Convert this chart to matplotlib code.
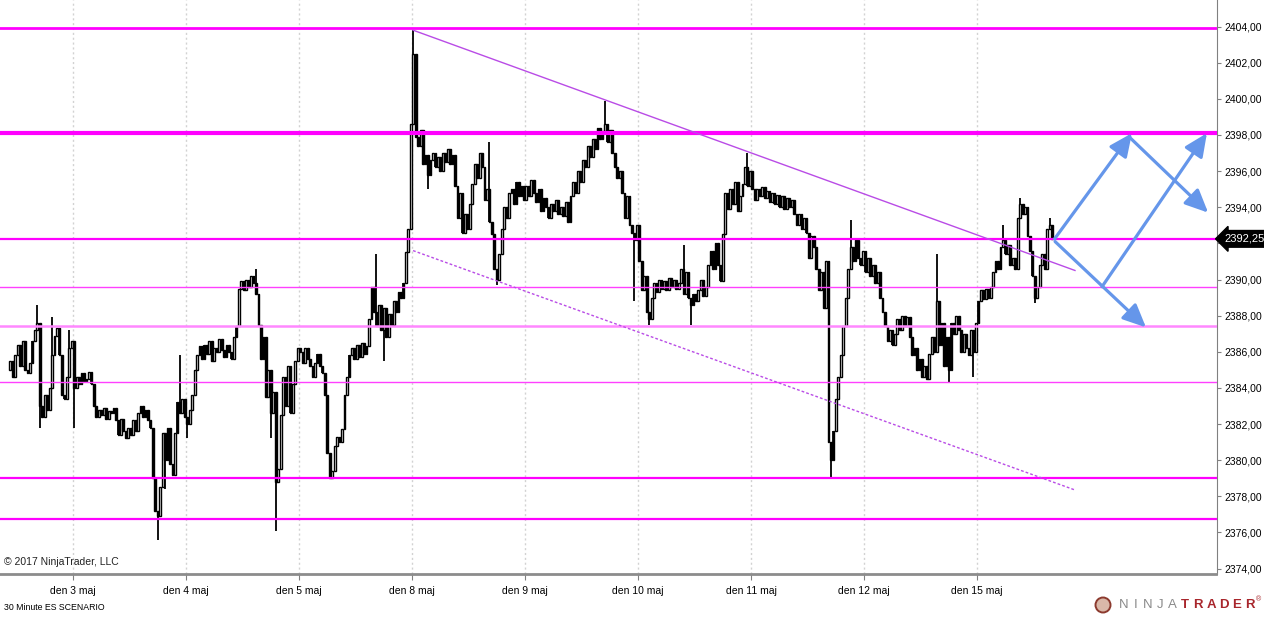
import numpy as np
import matplotlib.pyplot as plt
from matplotlib.ticker import FixedLocator, FuncFormatter
from matplotlib.patches import Circle

plt.rcParams['font.family'] = ['Liberation Sans', 'DejaVu Sans']

# ---------- DATA: 30 min ES closes ----------
first_open = 2385.0
pre = [2385.5, 2384.6, 2385.8, 2386.4, 2385.2, 2386.6, 2385.0, 2384.8, 2385.4, 2386.6,
       2387.2, 2387.6, 2383.0, 2382.4, 2383.6, 2382.8, 2384.0, 2385.8, 2386.9, 2387.3,
       2385.8, 2383.6, 2383.4, 2384.6, 2386.2, 2386.6]
may3 = [2384.0, 2384.6, 2384.2, 2384.8, 2384.4, 2384.5, 2384.9, 2384.2, 2383.0, 2382.4,
        2382.8, 2382.5, 2382.9, 2382.3, 2382.7, 2382.6, 2382.9, 2382.2, 2381.4, 2382.3,
        2381.6, 2381.2, 2381.8, 2381.4, 2382.2, 2381.6, 2382.6, 2383.0, 2382.4, 2382.8,
        2382.2, 2381.8, 2379.0, 2377.2, 2376.9, 2378.5, 2381.5, 2380.0, 2381.8, 2379.8,
        2379.2, 2381.5, 2383.2, 2382.6, 2383.4, 2382.4]
may4 = [2382.0, 2382.8, 2383.6, 2385.0, 2385.8, 2386.3, 2385.6, 2386.4, 2385.9, 2386.6,
        2385.5, 2386.2, 2386.0, 2386.7, 2386.1, 2385.7, 2386.4, 2386.0, 2385.6, 2386.8,
        2387.4, 2389.5, 2389.9, 2389.4, 2390.0, 2389.6, 2390.2, 2389.8, 2389.2, 2387.5,
        2385.6, 2386.8, 2383.5, 2385.0, 2382.6, 2383.8, 2378.8, 2379.5, 2382.5, 2384.6,
        2383.0, 2385.2, 2382.6, 2384.2, 2385.5, 2386.2]
may5 = [2386.0, 2385.4, 2386.2, 2385.6, 2385.2, 2384.6, 2385.4, 2385.9, 2385.2, 2384.8,
        2383.6, 2380.4, 2379.0, 2379.4, 2380.8, 2381.3, 2381.0, 2381.7, 2383.6, 2384.6,
        2385.8, 2386.2, 2385.6, 2386.4, 2385.7, 2386.5, 2385.9, 2386.3, 2387.8, 2389.6,
        2388.2, 2387.4, 2388.6, 2387.2, 2388.4, 2386.8, 2388.1, 2387.5, 2388.8, 2388.2,
        2389.3, 2389.0, 2389.8, 2391.5, 2392.8, 2398.6]
may8 = [2402.5, 2397.9, 2397.4, 2398.3, 2396.4, 2396.9, 2395.8, 2396.6, 2397.0, 2396.2,
        2396.8, 2396.0, 2397.0, 2396.5, 2397.2, 2396.4, 2396.9, 2395.2, 2393.4, 2394.8,
        2392.6, 2393.6, 2392.8, 2394.2, 2395.3, 2396.4, 2395.6, 2397.0, 2396.2, 2394.4,
        2395.0, 2393.2, 2392.5, 2390.6, 2390.0, 2391.4, 2392.8, 2394.0, 2393.4, 2394.8,
        2395.0, 2394.2, 2395.4, 2394.6, 2395.2, 2394.4]
may9 = [2395.2, 2394.6, 2395.5, 2394.8, 2394.3, 2395.0, 2393.8, 2394.5, 2394.0, 2393.4,
        2394.2, 2393.8, 2394.4, 2393.6, 2394.0, 2393.5, 2394.3, 2393.2, 2394.6, 2395.4,
        2394.8, 2396.0, 2395.4, 2396.6, 2396.2, 2397.4, 2396.8, 2397.8, 2397.2, 2398.4,
        2397.8, 2398.2, 2398.6, 2397.6, 2398.3, 2397.0, 2396.2, 2395.6, 2396.0, 2394.8,
        2393.4, 2394.6, 2393.0, 2392.6, 2392.2, 2393.0]
may10 = [2391.0, 2389.4, 2390.2, 2388.2, 2387.8, 2389.0, 2389.8, 2389.3, 2390.0, 2389.5,
         2389.9, 2389.4, 2390.1, 2389.6, 2390.0, 2389.5, 2389.8, 2390.6, 2389.2, 2390.4,
         2389.0, 2388.6, 2389.2, 2388.8, 2389.4, 2390.0, 2389.1, 2389.6, 2390.8, 2391.6,
         2390.6, 2392.0, 2390.8, 2389.9, 2392.5, 2394.8, 2393.9, 2395.0, 2394.2, 2395.4,
         2393.8, 2394.6, 2395.3, 2396.2, 2395.2, 2396.0]
may11 = [2395.0, 2394.4, 2395.0, 2394.6, 2395.1, 2394.5, 2394.9, 2394.3, 2394.8, 2394.2,
         2394.7, 2394.0, 2394.6, 2393.9, 2394.5, 2394.0, 2394.4, 2393.6, 2393.0, 2393.6,
         2392.8, 2393.4, 2392.6, 2391.2, 2392.4, 2391.8, 2390.6, 2389.4, 2390.4, 2388.4,
         2391.0, 2381.0, 2380.0, 2381.6, 2383.4, 2384.6, 2385.8, 2387.4, 2389.0, 2390.6,
         2391.8, 2391.0, 2392.2, 2391.2, 2390.8, 2391.6]
may12 = [2390.4, 2391.2, 2390.2, 2390.8, 2389.8, 2390.4, 2389.0, 2388.2, 2387.4, 2386.6,
         2387.2, 2386.4, 2387.0, 2387.8, 2387.2, 2388.0, 2387.4, 2387.9, 2386.8, 2385.8,
         2386.2, 2385.0, 2385.6, 2384.6, 2385.2, 2384.5, 2385.9, 2386.8, 2386.0, 2388.8,
         2386.4, 2387.6, 2385.2, 2386.8, 2385.0, 2387.6, 2387.0, 2388.0, 2387.2, 2386.0,
         2387.0, 2386.2, 2385.8, 2387.2, 2386.0, 2387.6]
may15 = [2388.8, 2389.4, 2388.9, 2389.5, 2389.0, 2389.6, 2390.4, 2391.0, 2390.6, 2391.8,
         2392.2, 2391.4, 2391.9, 2390.8, 2391.2, 2390.6, 2393.4, 2394.2, 2393.6, 2394.0,
         2392.4, 2391.6, 2390.2, 2389.0, 2389.6, 2390.8, 2391.4, 2390.6, 2392.8, 2393.0,
         2392.25]
days = [may3, may4, may5, may8, may9, may10, may11, may12, may15]
day_labels = ["den 3 maj", "den 4 maj", "den 5 maj", "den 8 maj", "den 9 maj",
              "den 10 maj", "den 11 maj", "den 12 maj", "den 15 maj"]

# wicks that stick out past the bodies
wick_hi_idx = [11, 17, 24, 69, 100, 149, 164, 195, 242, 274, 300, 342, 377, 404, 411, 423]
wick_hi_val = [2388.6, 2387.9, 2387.2, 2385.8, 2390.6, 2391.4, 2403.8, 2397.6, 2399.9,
               2391.9, 2397.0, 2393.3, 2391.4, 2393.0, 2394.5, 2393.4]
wick_lo_idx = [12, 26, 60, 63, 72, 106, 108, 130, 152, 170, 198, 254, 260, 277, 334, 382, 392, 417]
wick_lo_val = [2381.8, 2381.8, 2375.6, 2378.4, 2381.2, 2381.2, 2376.1, 2379.0, 2385.5,
               2395.0, 2389.7, 2388.8, 2387.5, 2387.5, 2379.0, 2384.3, 2384.6, 2388.7]

# horizontal levels drawn on the chart
levels = [2403.9, 2398.1, 2392.25, 2389.6, 2387.45, 2384.3, 2379.0, 2376.75]
level_lw = [2.0, 3.0, 1.6, 1.0, 1.8, 1.0, 1.6, 1.6]
level_col = ['#FF00FF', '#FF00FF', '#FF00FF', '#FF40FF', '#FF88FF', '#FF40FF', '#FF00FF', '#FF00FF']

# channel (bar index, price)
chan_x = [163.9, 433.3]
chan_upper = [2403.8, 2390.5]
chan_lower = [2391.6, 2378.35]

# scenario arrows: start bar, start price, end bar, end price
arr_x0 = [425.0, 455.3, 444.3, 425.2]
arr_y0 = [2392.25, 2397.9, 2389.6, 2392.1]
arr_x1 = [456.5, 487.5, 487.0, 462.2]
arr_y1 = [2398.1, 2393.7, 2398.1, 2387.35]

# ---------- BUILD ----------
closes = np.array(pre + sum(days, []))
opens = np.concatenate([[first_open], closes[:-1]])
highs = np.maximum(opens, closes)
lows = np.minimum(opens, closes)
highs[wick_hi_idx] = np.maximum(highs[wick_hi_idx], wick_hi_val)
lows[wick_lo_idx] = np.minimum(lows[wick_lo_idx], wick_lo_val)
idx = np.arange(len(closes))
up = closes >= opens

day_start = np.cumsum([len(pre)] + [len(d) for d in days[:-1]]) - 0.5

fig = plt.figure(figsize=(12.64, 6.17), dpi=100)
ax = fig.add_axes([0, 43 / 617, 1216.5 / 1264, 574 / 617])

ax.vlines(idx, lows, highs, color='black', lw=1.3, zorder=3)
ax.bar(idx, closes - opens, bottom=opens, width=0.72,
       color=np.where(up, 'white', 'black'), edgecolor='black', linewidth=1.0, zorder=4)

for lv, lw, col in zip(levels, level_lw, level_col):
    ax.axhline(lv, color=col, lw=lw, zorder=5)

ax.plot(chan_x, chan_upper, color='#B94CE6', lw=1.0, zorder=5)
ax.plot(chan_x, chan_lower, color='#B94CE6', lw=1.0, ls=(0, (2, 1.5)), zorder=5)

for x0, y0, x1, y1 in zip(arr_x0, arr_y0, arr_x1, arr_y1):
    ax.annotate('', xy=(x1, y1), xytext=(x0, y0),
                arrowprops=dict(arrowstyle='-|>,head_length=0.7,head_width=0.32',
                                color='#6596EA', lw=2.3, mutation_scale=20,
                                shrinkA=0, shrinkB=0), zorder=6)

ax.set_xlim(-4.21, 490.9)
ax.set_ylim(2373.70, 2405.47)

last = closes[-1]
yt = np.arange(2374, 2405, 2)
ax.yaxis.tick_right()
ax.yaxis.set_major_locator(FixedLocator(yt))
# the tick that sits under the last-price tag is hidden by it
ax.yaxis.set_major_formatter(FuncFormatter(
    lambda v, _: "" if abs(v - last) < 1 else f"{v:.2f}".replace('.', ',')))
ax.tick_params(axis='y', length=3, pad=3, labelsize=7.5, color='#808080')

ax.set_xticks(day_start)
ax.set_xticklabels(day_labels)
ax.tick_params(axis='x', length=4, pad=5, labelsize=7.5, color='#808080')
ax.xaxis.grid(True, color='#D2D2D2', lw=1, ls=(0, (1.5, 2)))
ax.set_axisbelow(True)

for s in ['left', 'top']:
    ax.spines[s].set_visible(False)
ax.spines['right'].set_color('#808080')
ax.spines['bottom'].set_color('#8C8C8C')
ax.spines['bottom'].set_linewidth(2)

# last price tag
ax.annotate(f"{last:.2f}".replace('.', ','), xy=(1.0, last), xycoords=('axes fraction', 'data'),
            xytext=(6, 0), textcoords='offset points', va='center', ha='left',
            color='white', fontsize=8, annotation_clip=False, zorder=10,
            bbox=dict(boxstyle='larrow,pad=0.3', fc='black', ec='black'))

ax.text(0.003, 0.021, "\u00a9 2017 NinjaTrader, LLC", transform=ax.transAxes,
        fontsize=7.5, va='center', ha='left', color='#222222')
fig.text(4 / 1264, 1 - 607 / 617, "30 Minute ES SCENARIO", fontsize=6.3, va='center', ha='left')

# NinjaTrader logo
fig.patches.append(Circle((11.03, 0.12), 0.075, transform=fig.dpi_scale_trans,
                          fc='#D9B8A8', ec='#8C3A2E', lw=1.4))
for i, ch in enumerate("NINJA"):
    fig.text((1124 + i * 12) / 1264, 1 - 605 / 617, ch, fontsize=9.5, color='#8A8A8A',
             ha='center', va='center')
for i, ch in enumerate("TRADER"):
    fig.text((1185 + i * 13) / 1264, 1 - 605 / 617, ch, fontsize=9.5, color='#A8262C',
             ha='center', va='center', weight='bold')
fig.text(1259 / 1264, 1 - 600 / 617, "\u00ae", fontsize=5, color='#A8262C', ha='center', va='center')

fig.savefig("out.png", dpi=100)
